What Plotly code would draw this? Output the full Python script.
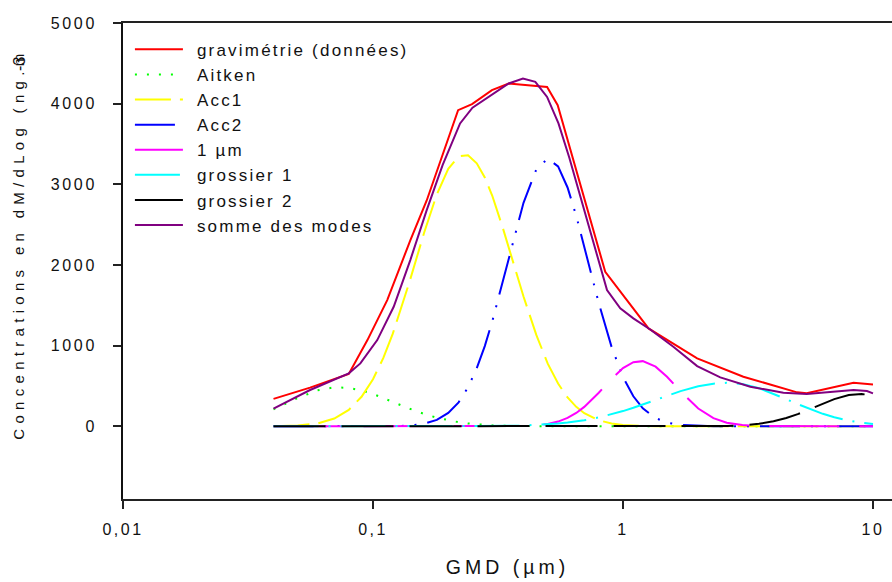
import plotly.graph_objects as go

# ---- data ----
gmd = [0.04, 0.05, 0.06, 0.07, 0.08, 0.09, 0.1, 0.11, 0.12, 0.13, 0.14,
       0.16, 0.18, 0.2, 0.22, 0.24, 0.26, 0.28, 0.3,
       0.33, 0.36, 0.4, 0.45, 0.5, 0.55, 0.6, 0.65, 0.7,
       0.8, 0.9, 1.0, 1.1, 1.2, 1.35, 1.5, 1.7,
       2.0, 2.3, 2.6, 3.0, 3.5, 4.0, 4.5, 5.0, 5.6, 6.3, 7.0, 8.0, 9.0, 10.0]

aitken = [211, 351, 446, 484, 476, 445, 401, 353, 304, 259, 219,
          154, 107, 73, 51, 35, 24, 17, 12,
          7, 4, 2, 1, 0, 0, 0, 0, 0,
          0, 0, 0, 0, 0, 0, 0, 0,
          0, 0, 0, 0, 0, 0, 0, 0, 0, 0, 0, 0, 0, 0]

acc1 = [2, 10, 36, 96, 204, 366, 584, 848, 1149, 1472, 1793,
        2396, 2875, 3193, 3347, 3360, 3261, 3085, 2858,
        2467, 2085, 1610, 1133, 777, 530, 358, 241, 163,
        75, 35, 17, 8, 4, 2, 0, 0,
        0, 0, 0, 0, 0, 0, 0, 0, 0, 0, 0, 0, 0, 0]

acc2 = [0, 0, 0, 0, 0, 0, 0, 1, 2, 5, 10,
        32, 80, 166, 297, 483, 720, 995, 1302,
        1792, 2248, 2771, 3185, 3320, 3222, 2961, 2610, 2234,
        1528, 985, 610, 372, 223, 102, 46, 17,
        4, 1, 0, 0, 0, 0, 0, 0, 0, 0, 0, 0, 0, 0]

mode_1um = [0, 0, 0, 0, 0, 0, 0, 0, 0, 0, 0,
            0, 0, 0, 0, 0, 0, 0, 0,
            1, 1, 4, 12, 30, 59, 104, 166, 241,
            416, 589, 722, 795, 808, 740, 614, 433,
            221, 102, 45, 15, 3, 1, 0, 0, 0, 0, 0, 0, 0, 0]

grossier1 = [0, 0, 0, 0, 0, 0, 0, 0, 0, 0, 0,
             0, 0, 0, 0, 1, 1, 2, 3,
             5, 6, 10, 16, 24, 34, 47, 60, 75,
             110, 149, 189, 230, 271, 327, 379, 436,
             496, 529, 540, 525, 473, 405, 337, 275, 212, 155, 113, 71, 45, 29]

grossier2 = [0, 0, 0, 0, 0, 0, 0, 0, 0, 0, 0,
             0, 0, 0, 0, 0, 0, 0, 0,
             0, 0, 0, 0, 0, 0, 0, 0, 0,
             0, 0, 0, 0, 0, 0, 0, 0,
             1, 2, 5, 13, 31, 62, 103, 151, 213, 281, 337, 387, 400, 385]

grav_x = [0.04, 0.056, 0.08, 0.095, 0.114, 0.141, 0.164, 0.191, 0.219, 0.249,
          0.299, 0.349, 0.497, 0.548, 0.849, 1.265, 1.98, 3.03, 4.97, 5.43, 8.36, 10.0]
grav_y = [340, 480, 650, 1069, 1565, 2305, 2800, 3383, 3919, 3994,
          4168, 4250, 4208, 3981, 1916, 1214, 843, 615, 421, 409, 540, 520]

somme_x = [0.04, 0.056, 0.08, 0.089, 0.104, 0.121, 0.141, 0.164, 0.19, 0.223,
           0.25, 0.277, 0.31, 0.349, 0.398, 0.446, 0.497, 0.552, 0.61, 0.675,
           0.776, 0.863, 0.975, 1.1, 1.285, 1.59, 1.98, 2.45, 3.23, 4.38,
           5.43, 6.95, 8.36, 9.46, 10.0]
somme_y = [220, 450, 657, 780, 1069, 1482, 2061, 2680, 3240, 3755,
           3950, 4043, 4150, 4250, 4312, 4270, 4084, 3755, 3330, 2845,
           2185, 1689, 1462, 1338, 1200, 986, 747, 607, 491, 417,
           400, 429, 450, 437, 409]

x_tickvals = [0.01, 0.1, 1, 10]
x_ticktext = ["0,01", "0,1", "1", "10"]
y_tickvals = [0, 1000, 2000, 3000, 4000, 5000]

FONT = "Liberation Sans, Arial, sans-serif"

fig = go.Figure()

series = [
    ("gravimétrie (données)", grav_x, grav_y, "#FF0000", "solid"),
    ("Aitken", gmd, aitken, "#00FF00", "2px,10px"),
    ("Acc1", gmd, acc1, "#FFFF00", "36px,9px"),
    ("Acc2", gmd, acc2, "#0000FF", "40px,11px,2px,11px,2px,11px"),
    ("1 µm", gmd, mode_1um, "#FF00FF", "70px,20px"),
    ("grossier 1", gmd, grossier1, "#00FFFF", "45px,10px,2px,10px"),
    ("grossier 2", gmd, grossier2, "#000000", "52px,16px"),
    ("somme des modes", somme_x, somme_y, "#800080", "solid"),
]
for name, xs, ys, col, dash in series:
    fig.add_trace(go.Scatter(x=xs, y=ys, name=name, mode="lines",
                             line=dict(color=col, width=2, dash=dash)))

fig.update_layout(
    width=892, height=582,
    margin=dict(l=123, r=0, t=23, b=83, autoexpand=False),
    paper_bgcolor="white", plot_bgcolor="white",
    font=dict(family=FONT, size=16, color="#111"),
    showlegend=True,
    legend=dict(x=0.009, y=0.9815, xanchor="left", yanchor="top",
                bgcolor="rgba(0,0,0,0)", borderwidth=0,
                font=dict(family=FONT, size=17, color="#111"),
                itemwidth=48),
    xaxis=dict(type="log", range=[-2, 1.076], showgrid=False, zeroline=False,
               automargin=False,
               showline=True, linecolor="#222", linewidth=1.5, mirror=True,
               ticks="outside", ticklen=8, tickcolor="#222", tickwidth=1.5,
               tickvals=x_tickvals, ticktext=x_ticktext,
               tickfont=dict(family=FONT, size=16, color="#111"),
               ticklabelstandoff=7,
               title=dict(text="GMD (µm)", font=dict(family=FONT, size=19.5, color="#111"),
                          standoff=23)),
    yaxis=dict(range=[-901, 5000], showgrid=False, zeroline=False,
               automargin=False,
               showline=True, linecolor="#111", linewidth=1.5,
               ticks="outside", ticklen=8, tickcolor="#222", tickwidth=1.5,
               tickvals=y_tickvals,
               tickfont=dict(family=FONT, size=16, color="#111"),
               ticklabelstandoff=13),
    annotations=[
        dict(text="Concentrations en dM/dLog (ng.m", textangle=-90,
             xref="paper", yref="paper", x=-0.1365, y=0.5347,
             xanchor="center", yanchor="middle", showarrow=False,
             font=dict(family=FONT, size=15, color="#111")),
        dict(text="-3", textangle=-90,
             xref="paper", yref="paper", x=-0.134, y=0.914,
             xanchor="center", yanchor="middle", showarrow=False,
             font=dict(family=FONT, size=16, color="#111")),
    ],
)

post = """
document.body.style.margin = '0';
document.body.style.padding = '0';
var gd = document.getElementById('{plot_id}');
function applyLS(){
  function set(sel, v){ gd.querySelectorAll(sel).forEach(function(e){ e.style.letterSpacing = v; }); }
  set('.legendtext', '2.2px');
  gd.querySelectorAll('.legendtext').forEach(function(e){ e.setAttribute('x', 67); });
  gd.querySelectorAll('.legend .scrollbox').forEach(function(e){ e.removeAttribute('clip-path'); });
  gd.querySelectorAll('.legend').forEach(function(e){ e.style.overflow = 'visible'; });
  set('.xtick text', '2.5px');
  set('.ytick text', '2.7px');
  set('.g-xtitle text', '4px');
  set('.annotation[data-index="0"] .annotation-text', '5.3px');
}
applyLS();
gd.on('plotly_afterplot', applyLS);
"""

fig.write_html("out.html", post_script=post, config={"displayModeBar": False})
